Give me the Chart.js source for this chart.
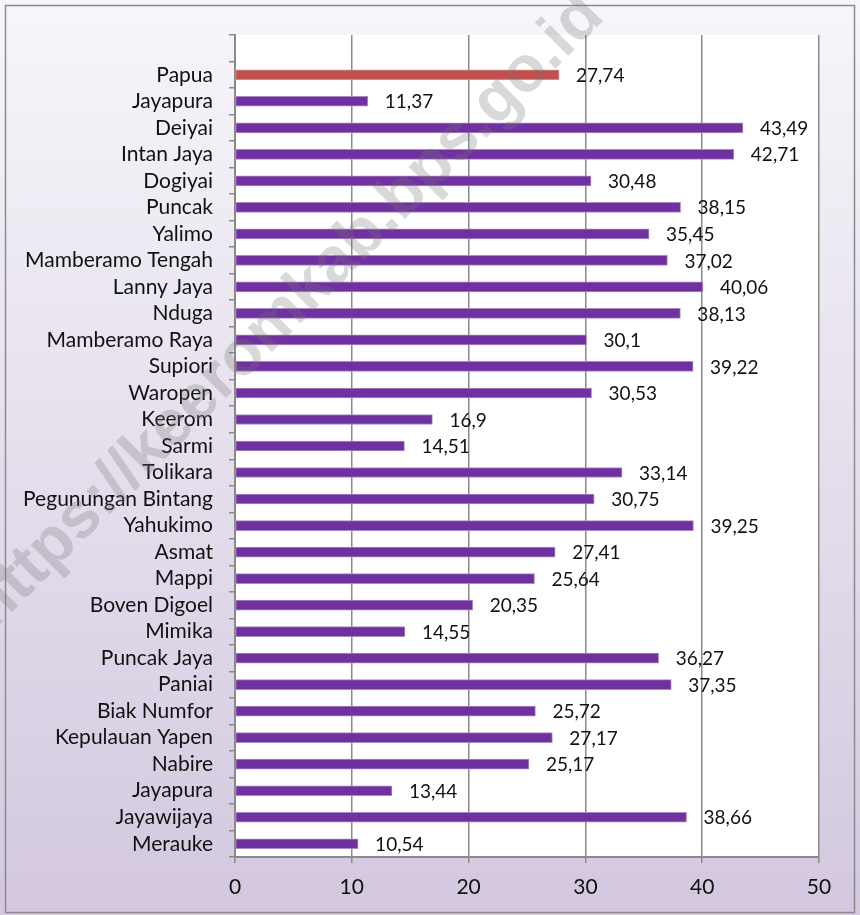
<!DOCTYPE html>
<html>
<head>
<meta charset="utf-8">
<script src="https://cdn.jsdelivr.net/npm/chart.js@4.4.0/dist/chart.umd.min.js"></script>
<style>
  html, body { margin: 0; padding: 0; background: #fff; }
  canvas { display: block; }
</style>
</head>
<body>
<canvas id="chart" width="860" height="915"></canvas>
<script>
// -----------------------
// Data (top to bottom; first slot is left empty like the original)
// -----------------------
const regions = ['', 'Papua', 'Jayapura', 'Deiyai', 'Intan Jaya', 'Dogiyai', 'Puncak', 'Yalimo',
  'Mamberamo Tengah', 'Lanny Jaya', 'Nduga', 'Mamberamo Raya', 'Supiori', 'Waropen', 'Keerom',
  'Sarmi', 'Tolikara', 'Pegunungan Bintang', 'Yahukimo', 'Asmat', 'Mappi', 'Boven Digoel',
  'Mimika', 'Puncak Jaya', 'Paniai', 'Biak Numfor', 'Kepulauan Yapen', 'Nabire', 'Jayapura',
  'Jayawijaya', 'Merauke'];
const values = [null, 27.74, 11.37, 43.49, 42.71, 30.48, 38.15, 35.45,
  37.02, 40.06, 38.13, 30.1, 39.22, 30.53, 16.9,
  14.51, 33.14, 30.75, 39.25, 27.41, 25.64, 20.35,
  14.55, 36.27, 37.35, 25.72, 27.17, 25.17, 13.44,
  38.66, 10.54];
const xTicks = [0, 10, 20, 30, 40, 50];

const FONT = 'Lato, "Open Sans", sans-serif';

// Background, frame and white plot area
const backdrop = {
  id: 'backdrop',
  beforeDraw(chart) {
    const { ctx, chartArea: a, width, height } = chart;
    ctx.save();
    const g = ctx.createLinearGradient(0, 0, 0, height);
    g.addColorStop(0, '#f7f6fa');
    g.addColorStop(1, '#d3c8df');
    ctx.fillStyle = g;
    ctx.fillRect(0, 0, width, height);
    ctx.strokeStyle = '#8c8c8c';
    ctx.lineWidth = 1.5;
    ctx.strokeRect(5.5, 5.5, width - 11, height - 8);
    ctx.fillStyle = '#ffffff';
    ctx.fillRect(a.left, a.top, a.right - a.left, a.bottom - a.top);
    ctx.restore();
  }
};

// Value labels to the right of each bar
const valueLabels = {
  id: 'valueLabels',
  afterDatasetsDraw(chart) {
    const { ctx } = chart;
    const meta = chart.getDatasetMeta(0);
    ctx.save();
    ctx.font = '19px ' + FONT;
    ctx.fillStyle = '#111';
    ctx.textAlign = 'left';
    ctx.textBaseline = 'middle';
    meta.data.forEach((bar, i) => {
      const v = values[i];
      if (v == null) return;
      ctx.fillText(String(v).replace('.', ','), bar.x + 17, bar.y + 1);
    });
    ctx.restore();
  }
};

// Diagonal watermark
const watermark = {
  id: 'watermark',
  afterDraw(chart) {
    const { ctx } = chart;
    ctx.save();
    ctx.translate(-7, 631);
    ctx.rotate(-45 * Math.PI / 180);
    ctx.font = 'bold 65px "Liberation Sans", Arial, sans-serif';
    ctx.fillStyle = 'rgba(120,120,120,0.28)';
    ctx.textBaseline = 'alphabetic';
    ctx.fillText('https://keeromkab.bps.go.id', 0, 0);
    ctx.restore();
  }
};

const ctx = document.getElementById('chart').getContext('2d');
new Chart(ctx, {
  type: 'bar',
  data: {
    labels: regions,
    datasets: [{
      data: values,
      backgroundColor: regions.map((r, i) => i === 1 ? '#c0504d' : '#7030a0'),
      borderColor: regions.map((r, i) => i === 1 ? '#d68a88' : '#a88bc4'),
      borderWidth: 1,
      borderSkipped: false,
      barThickness: 10
    }]
  },
  options: {
    indexAxis: 'y',
    responsive: false,
    animation: false,
    layout: { padding: { top: 35, right: 41, left: 0, bottom: 0 } },
    plugins: { legend: { display: false }, tooltip: { enabled: false } },
    scales: {
      x: {
        min: 0,
        max: 50,
        afterBuildTicks: s => { s.ticks = xTicks.map(v => ({ value: v })); },
        afterFit: s => { s.height = 58; },
        grid: { color: '#8a8a8a', lineWidth: 1.5, tickLength: 6 },
        border: { color: '#8a8a8a', width: 2 },
        ticks: { color: '#111', padding: 12, font: { family: FONT, size: 21 } }
      },
      y: {
        afterFit: s => { s.width = 235; },
        grid: { drawOnChartArea: false, color: '#8a8a8a', lineWidth: 1.5, tickLength: 6, offset: true },
        border: { color: '#8a8a8a', width: 2 },
        ticks: { color: '#111', padding: 16, autoSkip: false, font: { family: FONT, size: 21 } }
      }
    }
  },
  plugins: [backdrop, valueLabels, watermark]
});
</script>
</body>
</html>
